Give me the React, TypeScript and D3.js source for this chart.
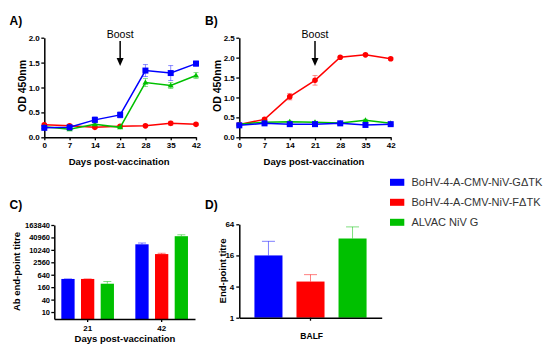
import React, { useEffect, useRef } from 'react';
import * as d3 from 'd3';

const days = [0, 7, 14, 21, 28, 35, 42];
const seriesNames = ['BoHV-4-A-CMV-NiV-GΔTK', 'BoHV-4-A-CMV-NiV-FΔTK', 'ALVAC NiV G'];
const colors = ['#0000ff', '#ff0000', '#00c000'];

// Panel A (OD vs NiV G)
const aBlue = [0.19, 0.2, 0.35, 0.45, 1.34, 1.29, 1.48];
const aBlueErr = [0.03, 0.02, 0.06, 0.06, 0.12, 0.15, 0.05];
const aRed = [0.25, 0.23, 0.2, 0.22, 0.23, 0.28, 0.26];
const aRedErr = [0.02, 0.02, 0.02, 0.02, 0.02, 0.04, 0.02];
const aGreen = [0.21, 0.16, 0.26, 0.2, 1.1, 1.04, 1.24];
const aGreenErr = [0.02, 0.02, 0.03, 0.02, 0.08, 0.06, 0.06];

// Panel B (OD vs NiV F)
const bBlue = [0.3, 0.35, 0.33, 0.33, 0.35, 0.31, 0.33];
const bBlueErr = [0.02, 0.02, 0.02, 0.02, 0.02, 0.02, 0.02];
const bRed = [0.32, 0.45, 1.02, 1.43, 2.01, 2.07, 1.97];
const bRedErr = [0.03, 0.03, 0.08, 0.12, 0.02, 0.02, 0.03];
const bGreen = [0.33, 0.38, 0.39, 0.38, 0.36, 0.43, 0.35];
const bGreenErr = [0.02, 0.02, 0.02, 0.02, 0.02, 0.02, 0.02];

// Panel C (end-point titre, serum)
const cGroups = ['21', '42'];
const cValues = [[400, 400, 235], [19000, 6400, 47000]];
const cErrTop = [[400, 400, 300], [22000, 7000, 55000]];
const cTicks = [10, 40, 160, 640, 2560, 10240, 40960, 163840];

// Panel D (BALF)
const dValues = [16, 5, 34];
const dErrTop = [30, 6.8, 57];
const dTicks = [1, 4, 16, 64];

const App: React.FC = () => {
  const svgRef = useRef<SVGSVGElement>(null);

  useEffect(() => {
    const svg = d3.select(svgRef.current);
    svg.selectAll('*').remove();
    const font = 'Arial, "Liberation Sans", sans-serif';

    const styleAxis = (g: any, size = 8) => {
      g.selectAll('.domain').attr('stroke', '#000').attr('stroke-width', 1.5);
      g.selectAll('.tick line').attr('stroke', '#000').attr('stroke-width', 1.3);
      g.selectAll('text')
        .attr('fill', '#000')
        .style('font-family', font)
        .style('font-size', size + 'px')
        .style('font-weight', 'bold');
    };

    const label = (x: number, y: number, txt: string, size: number, rotate = false) => {
      svg.append('text')
        .attr('x', x).attr('y', y)
        .attr('text-anchor', 'middle')
        .attr('transform', rotate ? `rotate(-90,${x},${y})` : null)
        .style('font-family', font)
        .style('font-size', size + 'px')
        .style('font-weight', 'bold')
        .attr('fill', '#000')
        .text(txt);
    };

    const tag = (x: number, y: number, txt: string) => {
      svg.append('text').attr('x', x).attr('y', y)
        .style('font-family', font).style('font-size', '12px').style('font-weight', 'bold')
        .text(txt);
    };

    const linePanel = (
      left: number, right: number, yMax: number, tagTxt: string, tagX: number,
      data: number[][], errs: number[][]
    ) => {
      const x = d3.scaleLinear().domain([0, 42]).range([left, right]);
      const y = d3.scaleLinear().domain([0, yMax]).range([137.3, 37.7]);
      const gx = svg.append('g').attr('transform', 'translate(0,137.3)')
        .call(d3.axisBottom(x).tickValues(days).tickSize(3).tickPadding(2.5).tickSizeOuter(0));
      styleAxis(gx);
      const gy = svg.append('g').attr('transform', `translate(${left},0)`)
        .call(d3.axisLeft(y).ticks(yMax / 0.5).tickFormat(d3.format('.1f')).tickSize(3).tickPadding(1.5).tickSizeOuter(0));
      styleAxis(gy);

      label(left - 18.5, 86, 'OD 450nm', 10.5, true);
      label((left + right) / 2 - 1, 164.5, 'Days post-vaccination', 9.5);
      tag(tagX, 24.5, tagTxt);

      // boost arrow
      const bx = x(21);
      svg.append('text').attr('x', bx).attr('y', 37.5).attr('text-anchor', 'middle')
        .style('font-family', font).style('font-size', '10.5px').text('Boost');
      svg.append('line').attr('x1', bx).attr('x2', bx).attr('y1', 41).attr('y2', 60)
        .attr('stroke', '#000').attr('stroke-width', 1.5);
      svg.append('path').attr('d', `M${bx - 3.5},58 L${bx + 3.5},58 L${bx},66 Z`).attr('fill', '#000');

      [1, 2, 0].forEach(i => {
        const vals = data[i];
        const err = errs[i];
        const c = colors[i];
        const g = svg.append('g');
        vals.forEach((v, k) => {
          const cx = x(days[k]);
          g.append('line').attr('x1', cx).attr('x2', cx)
            .attr('y1', y(v - err[k])).attr('y2', y(v + err[k]))
            .attr('stroke', c).attr('stroke-opacity', 0.45).attr('stroke-width', 1);
          [v - err[k], v + err[k]].forEach(e => {
            g.append('line').attr('x1', cx - 2.5).attr('x2', cx + 2.5)
              .attr('y1', y(e)).attr('y2', y(e))
              .attr('stroke', c).attr('stroke-opacity', 0.45).attr('stroke-width', 1);
          });
        });
        const line = d3.line<number>().x((_, k) => x(days[k])).y(d => y(d));
        g.append('path').datum(vals).attr('d', line).attr('fill', 'none')
          .attr('stroke', c).attr('stroke-width', 1.5);
        vals.forEach((v, k) => {
          const cx = x(days[k]);
          const cy = y(v);
          if (i === 0) {
            g.append('rect').attr('x', cx - 3).attr('y', cy - 3).attr('width', 6).attr('height', 6).attr('fill', c);
          } else if (i === 1) {
            g.append('circle').attr('cx', cx).attr('cy', cy).attr('r', 2.8).attr('fill', c);
          } else {
            g.append('path').attr('d', `M${cx},${cy - 3} L${cx + 3},${cy + 2} L${cx - 3},${cy + 2} Z`).attr('fill', c);
          }
        });
      });
    };

    linePanel(44.3, 196, 2.0, 'A)', 9.5, [aBlue, aRed, aGreen], [aBlueErr, aRedErr, aGreenErr]);
    linePanel(239.3, 390.7, 2.5, 'B)', 205, [bBlue, bRed, bGreen], [bBlueErr, bRedErr, bGreenErr]);

    // Panel C
    const cBottom = 319, cTop = 225;
    const yC = d3.scaleLog().base(4).domain([4.6, 163840]).range([cBottom, cTop]);
    const xC = d3.scaleBand().domain(cGroups).range([54.3, 195]).paddingInner(0.289).paddingOuter(0.095);
    const inner = d3.scaleBand().domain(['0', '1', '2']).range([0, xC.bandwidth()]).paddingInner(0.325).paddingOuter(0);
    cGroups.forEach((grp, gi) => {
      cValues[gi].forEach((v, si) => {
        const bx = xC(grp)! + inner(String(si))!;
        const bw = inner.bandwidth();
        const ex = bx + bw / 2;
        svg.append('line').attr('x1', ex).attr('x2', ex).attr('y1', yC(v)).attr('y2', yC(cErrTop[gi][si]))
          .attr('stroke', colors[si]).attr('stroke-opacity', 0.5).attr('stroke-width', 1);
        svg.append('line').attr('x1', ex - 4).attr('x2', ex + 4)
          .attr('y1', yC(cErrTop[gi][si])).attr('y2', yC(cErrTop[gi][si]))
          .attr('stroke', colors[si]).attr('stroke-opacity', 0.5).attr('stroke-width', 1);
        svg.append('rect').attr('x', bx).attr('y', yC(v)).attr('width', bw)
          .attr('height', cBottom - yC(v)).attr('fill', colors[si]);
      });
    });
    const gxC = svg.append('g').attr('transform', `translate(0,${cBottom})`)
      .call(d3.axisBottom(xC).tickSize(3).tickPadding(3).tickSizeOuter(0));
    styleAxis(gxC, 8);
    const gyC = svg.append('g').attr('transform', 'translate(54.3,0)')
      .call(d3.axisLeft(yC).tickValues(cTicks).tickFormat(d3.format('d')).tickSize(3).tickPadding(1.3).tickSizeOuter(0));
    styleAxis(gyC, 7.5);
    label(19.5, 271.5, 'Ab end-point titre', 9.5, true);
    label(125, 341.5, 'Days post-vaccination', 9.5);
    tag(9.5, 208.5, 'C)');

    // Panel D
    const dBottom = 317.7, dTop = 224.3;
    const yD = d3.scaleLog().base(4).domain([1, 64]).range([dBottom, dTop]);
    const xD = d3.scaleBand().domain(['0', '1', '2']).range([239.3, 381.7]).paddingInner(0.333).paddingOuter(0.36);
    dValues.forEach((v, si) => {
      const bx = xD(String(si))!;
      const bw = xD.bandwidth();
      const ex = bx + bw / 2;
      svg.append('line').attr('x1', ex).attr('x2', ex).attr('y1', yD(v)).attr('y2', yD(dErrTop[si]))
        .attr('stroke', colors[si]).attr('stroke-opacity', 0.5).attr('stroke-width', 1);
      svg.append('line').attr('x1', ex - 6.5).attr('x2', ex + 6.5)
        .attr('y1', yD(dErrTop[si])).attr('y2', yD(dErrTop[si]))
        .attr('stroke', colors[si]).attr('stroke-opacity', 0.5).attr('stroke-width', 1);
      svg.append('rect').attr('x', bx).attr('y', yD(v)).attr('width', bw)
        .attr('height', dBottom - yD(v)).attr('fill', colors[si]);
    });
    const xDAxis = d3.scaleBand().domain(['BALF']).range([239.3, 381.7]);
    const gxD = svg.append('g').attr('transform', `translate(0,${dBottom})`)
      .call(d3.axisBottom(xDAxis).tickSize(3).tickFormat(() => '').tickSizeOuter(0));
    styleAxis(gxD);
    label(311.7, 339.3, 'BALF', 8.5);
    const gyD = svg.append('g').attr('transform', 'translate(239.3,0)')
      .call(d3.axisLeft(yD).tickValues(dTicks).tickFormat(d3.format('d')).tickSize(3).tickPadding(2).tickSizeOuter(0));
    styleAxis(gyD, 8);
    label(225.5, 271, 'End-point titre', 9.5, true);
    tag(205, 208.5, 'D)');

    // Legend
    seriesNames.forEach((name, i) => {
      const cy = 182.3 + i * 20;
      svg.append('rect').attr('x', 390).attr('y', cy - 3.5).attr('width', 14.3).attr('height', 7).attr('fill', colors[i]);
      svg.append('text').attr('x', 411.5).attr('y', cy + 4)
        .style('font-family', font).style('font-size', '11px')
        .attr('fill', '#333').text(name);
    });
  }, []);

  return (
    <svg ref={svgRef} width={550} height={349}
      style={{ position: 'absolute', left: 0, top: 0, background: '#fff' }} />
  );
};

export default App;
